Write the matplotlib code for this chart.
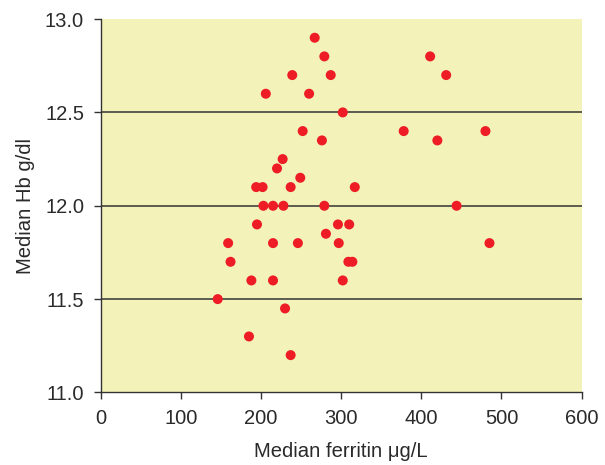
import matplotlib
matplotlib.use("Agg")
import matplotlib.pyplot as plt

plt.rcParams['font.family'] = ['Liberation Sans', 'DejaVu Sans']

# median ferritin (ug/L) and median Hb (g/dl) per centre
ferritin = [267, 279, 239, 287, 206, 260, 302, 252, 276, 227, 220, 249,
            194, 202, 237, 203, 215, 228, 279, 195, 296, 310, 281, 159,
            215, 246, 297, 162, 309, 314, 188, 215, 302, 146, 230, 185,
            237, 411, 431, 378, 480, 420, 317, 444, 485]
hb = [12.9, 12.8, 12.7, 12.7, 12.6, 12.6, 12.5, 12.4, 12.35, 12.25, 12.2, 12.15,
      12.1, 12.1, 12.1, 12.0, 12.0, 12.0, 12.0, 11.9, 11.9, 11.9, 11.85, 11.8,
      11.8, 11.8, 11.8, 11.7, 11.7, 11.7, 11.6, 11.6, 11.6, 11.5, 11.45, 11.3,
      11.2, 12.8, 12.7, 12.4, 12.4, 12.35, 12.1, 12.0, 11.8]

xticks = [0, 100, 200, 300, 400, 500, 600]
yticks = [11.0, 11.5, 12.0, 12.5, 13.0]

fig = plt.figure(figsize=(6.05, 4.65), dpi=100)
ax = fig.add_axes([0.1664, 0.156, 0.795, 0.803])
ax.set_facecolor('#F3F3B9')

for y in yticks[1:-1]:
    ax.axhline(y, color='#333333', lw=1.1, zorder=1)

ax.scatter(ferritin, hb, s=52, color='#EE1C25', edgecolors='none', zorder=3)

ax.set_xlim(0, 600)
ax.set_ylim(11.0, 13.0)
ax.set_xticks(xticks)
ax.set_yticks(yticks)
ax.set_xticklabels([str(t) for t in xticks])
ax.set_yticklabels([f'{t:.1f}' for t in yticks])

for side in ['top', 'right']:
    ax.spines[side].set_visible(False)
for side in ['left', 'bottom']:
    ax.spines[side].set_color('#333333')
    ax.spines[side].set_linewidth(1.0)

ax.tick_params(direction='out', length=5, width=1.0, color='#333333',
               labelsize=14.5, labelcolor='#2a2a2a', pad=7)

ax.set_xlabel('Median ferritin μg/L', fontsize=14.6, color='#2a2a2a', labelpad=10)
ax.set_ylabel('Median Hb g/dl', fontsize=14.6, color='#2a2a2a', labelpad=7)

fig.savefig('out.png', dpi=100)
